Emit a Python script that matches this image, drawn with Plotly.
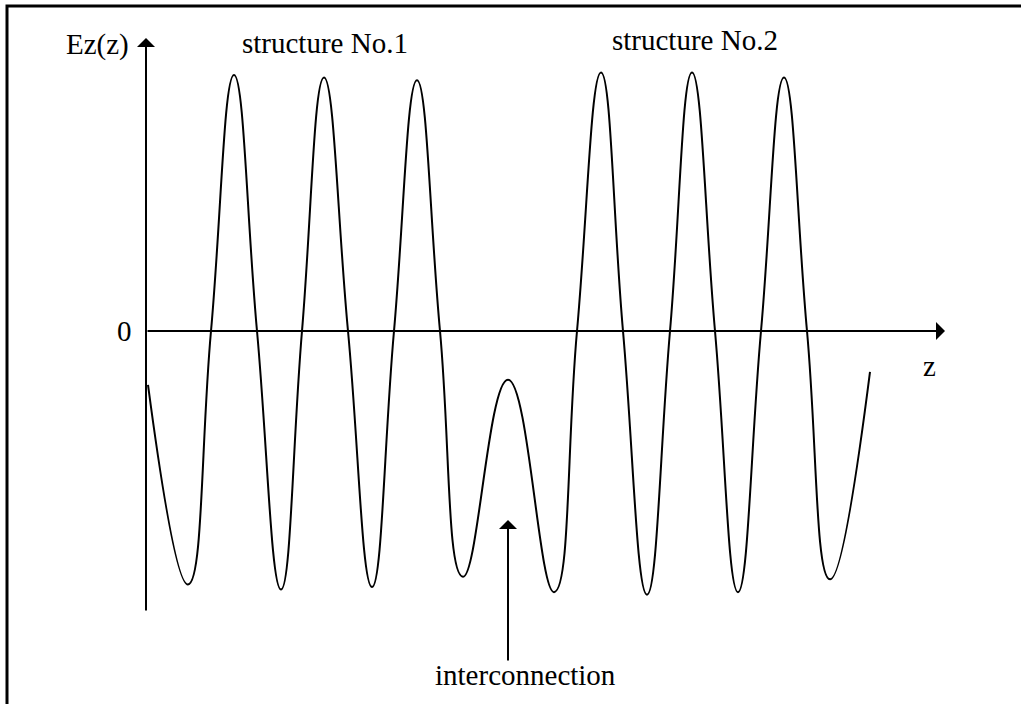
import plotly.graph_objects as go

# Ez(z) along the two structures and the interconnection
z_pos = [0.02, 0.42, 0.65, 0.88, 1.11, 1.35, 1.56, 1.78, 2.02, 2.26, 2.48, 2.71,
         2.94, 3.17, 3.62, 4.08, 4.31, 4.55, 4.77, 5.01, 5.24, 5.46, 5.69, 5.92,
         6.15, 6.38, 6.61, 6.84, 7.24]
ez_val = [-0.21, -0.99, 0.0, 1.00, 0.0, -1.01, 0.0, 0.99, 0.0, -1.00, 0.0, 0.98,
          0.0, -0.96, -0.19, -1.02, 0.0, 1.01, 0.0, -1.03, 0.0, 1.01, 0.0, -1.02,
          0.0, 0.99, 0.0, -0.97, -0.16]

FONT = "Liberation Serif"


def arrow(x, y, ax, ay):
    # plain arrow drawn in data coordinates, head at (x, y)
    return dict(
        x=x, y=y, ax=ax, ay=ay,
        xref="x", yref="y", axref="x", ayref="y",
        text="", showarrow=True,
        arrowhead=1, arrowsize=1.5, arrowwidth=2, arrowcolor="black",
        standoff=0, startstandoff=0,
    )


def label(text, x, y, size=29):
    return dict(
        x=x, y=y, xref="x", yref="y", text=text, showarrow=False,
        font=dict(family=FONT, size=size, color="black"),
        xanchor="center", yanchor="middle",
    )


fig = go.Figure(
    layout=dict(
        width=1021,
        height=704,
        margin=dict(l=0, r=0, t=0, b=0, pad=0),
        paper_bgcolor="white",
        plot_bgcolor="white",
        font=dict(family=FONT, size=29, color="black"),
        showlegend=False,
    )
)

fig.add_trace(
    go.Scatter(
        x=z_pos,
        y=ez_val,
        mode="lines",
        line=dict(color="black", width=2, shape="spline", smoothing=1.3),
        hoverinfo="skip",
    )
)

fig.update_xaxes(range=[-1.46, 8.75], visible=False, fixedrange=True)
fig.update_yaxes(range=[-1.457, 1.293], visible=False, fixedrange=True)

annotations = [
    # axes
    arrow(0, 1.145, 0, -1.098),
    arrow(7.99, 0, 0, 0),
    # interconnection pointer
    arrow(3.62, -0.738, 3.62, -1.293),
    label("Ez(z)", -0.49, 1.12),
    label("0", -0.22, 0.0),
    label("z", 7.83, -0.137),
    label("structure No.1", 1.79, 1.125),
    label("structure No.2", 5.49, 1.137),
    label("interconnection", 3.79, -1.344),
]
fig.update_layout(annotations=annotations)

# frame round the figure
fig.add_shape(
    type="rect", xref="paper", yref="paper",
    x0=7 / 1021, x1=1.02, y0=-0.02, y1=1 - 6 / 704,
    line=dict(color="black", width=3),
)

fig.write_html(
    "out.html",
    config=dict(displayModeBar=False),
    post_script="document.body.style.margin='0';",
)
